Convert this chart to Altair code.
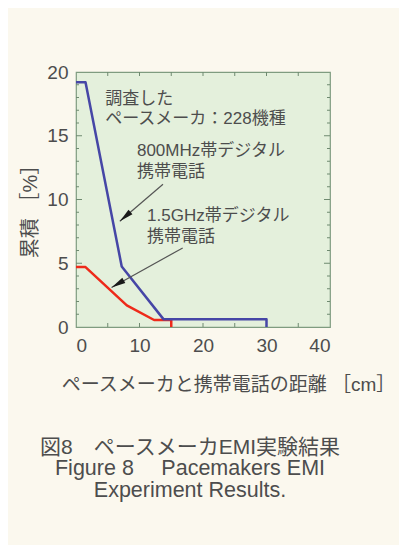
import altair as alt
import pandas as pd

# ---- data ----
blue_x = [0, 1.5, 7.2, 13.8, 30, 30]
blue_y = [19.2, 19.2, 4.75, 0.6, 0.6, 0]
red_x = [0, 1.5, 8.0, 12.3, 15, 15]
red_y = [4.7, 4.7, 1.7, 0.55, 0.55, 0]

x_labels = [0, 10, 20, 30, 40]
y_labels = [0, 5, 10, 15, 20]
x_ticks = [5, 10, 15, 20, 25, 30, 35]
y_ticks_minor = [1, 2, 3, 4, 6, 7, 8, 9, 11, 12, 13, 14, 16, 17, 18, 19]
y_ticks_major = [5, 10, 15]

note_text = ["調査した", "ペースメーカ：228機種", "800MHz帯デジタル", "携帯電話", "1.5GHz帯デジタル", "携帯電話"]
note_x = [4.6, 4.6, 9.6, 9.6, 11.2, 11.2]
note_y = [17.5, 15.9, 13.4, 11.8, 8.3, 6.7]

arrow_x = [13.7, 16.8]
arrow_y = [11.2, 6.2]
arrow_x2 = [6.9, 5.6]
arrow_y2 = [8.3, 3.1]
arrow_angle = [229, 240]

caption_jp = "図8　ペースメーカEMI実験結果"
caption_en = ["Figure 8　 Pacemakers EMI", "Experiment Results."]
x_title = "ペースメーカと携帯電話の距離 ［cm］"
y_title = "累積 ［%］"

FONT = "Liberation Sans, Noto Sans CJK JP, sans-serif"
TXT = "#4d4d4d"
W, H = 254, 255

lines = pd.DataFrame(
    {"x": blue_x + red_x, "y": blue_y + red_y,
     "s": ["800"] * len(blue_x) + ["1.5"] * len(red_x),
     "o": list(range(len(blue_x))) + list(range(len(red_x)))}
)

xs = alt.Scale(domain=[0, 40], nice=False, zero=False)
ys = alt.Scale(domain=[0, 20], nice=False, zero=False)

base_x = alt.X("x:Q", scale=xs, title=x_title,
               axis=alt.Axis(values=x_labels, tickSize=0, domain=False, grid=False,
                             labelFontSize=19, labelPadding=9, labelColor=TXT, labelFont=FONT,
                             titleFont=FONT, titleFontSize=19, titleFontWeight="normal", titleColor=TXT,
                             titleX=152, titleY=63, titleAlign="center", titleBaseline="alphabetic"))
base_y = alt.Y("y:Q", scale=ys, title=y_title,
               axis=alt.Axis(values=y_labels, tickSize=0, domain=False, grid=False,
                             labelFontSize=19, labelPadding=8, labelColor=TXT, labelFont=FONT,
                             titleFont=FONT, titleFontSize=20, titleFontWeight="normal", titleColor=TXT,
                             titleX=-46, titleY=134, titleAlign="center", titleBaseline="middle",
                             titleAngle=270))

red = alt.Chart(lines[lines.s == "1.5"]).mark_line(color="#ee2a1a", strokeWidth=2.5, strokeJoin="round").encode(
    x=base_x, y=base_y, order="o:Q")
blue = alt.Chart(lines[lines.s == "800"]).mark_line(color="#4646a6", strokeWidth=2.5, strokeJoin="round").encode(
    x="x:Q", y="y:Q", order="o:Q")

tick_color = "#6f8a70"
xt = pd.DataFrame({"x": x_ticks})
xt_bottom = alt.Chart(xt).mark_rule(color=tick_color, strokeWidth=1).encode(
    x="x:Q", y=alt.value(H), y2=alt.value(H - 4))
xt_top = alt.Chart(xt).mark_rule(color=tick_color, strokeWidth=1).encode(
    x="x:Q", y=alt.value(0), y2=alt.value(4))

ytm = pd.DataFrame({"y": y_ticks_minor})
ytM = pd.DataFrame({"y": y_ticks_major})
yt_l_min = alt.Chart(ytm).mark_rule(color=tick_color, strokeWidth=1).encode(
    y="y:Q", x=alt.value(0), x2=alt.value(3))
yt_r_min = alt.Chart(ytm).mark_rule(color=tick_color, strokeWidth=1).encode(
    y="y:Q", x=alt.value(W), x2=alt.value(W - 3))
yt_l_maj = alt.Chart(ytM).mark_rule(color=tick_color, strokeWidth=1).encode(
    y="y:Q", x=alt.value(0), x2=alt.value(6))
yt_r_maj = alt.Chart(ytM).mark_rule(color=tick_color, strokeWidth=1).encode(
    y="y:Q", x=alt.value(W), x2=alt.value(W - 6))

notes = alt.Chart(pd.DataFrame({"x": note_x, "y": note_y, "t": note_text})).mark_text(
    align="left", baseline="alphabetic", fontSize=17, font=FONT, color=TXT).encode(
    x="x:Q", y="y:Q", text="t:N")

arr = pd.DataFrame({"x": arrow_x, "y": arrow_y, "x2": arrow_x2, "y2": arrow_y2, "a": arrow_angle})
arrow_lines = alt.Chart(arr).mark_rule(color="#555555", strokeWidth=1.2).encode(
    x="x:Q", y="y:Q", x2="x2:Q", y2="y2:Q")
arrow_heads = alt.Chart(arr).mark_point(
    shape="M0,0L0.42,2L-0.42,2Z", filled=True, color="#1a1a1a", opacity=1, size=200).encode(
    x="x2:Q", y="y2:Q", angle=alt.Angle("a:Q", scale=None))

chart = alt.layer(
    xt_bottom, xt_top, yt_l_min, yt_r_min, yt_l_maj, yt_r_maj,
    red, blue, arrow_lines, arrow_heads, notes
).properties(
    width=W, height=H,
    autosize=alt.AutoSizeParams(type="none"),
    padding={"left": 68, "top": 64, "right": 69, "bottom": 218},
    title=alt.TitleParams(text=caption_jp, subtitle=caption_en, orient="bottom", anchor="middle",
                          frame="group", fontSize=21, font=FONT, fontWeight="normal", color=TXT,
                          subtitleFont=FONT, subtitleFontSize=21.5, subtitleColor=TXT,
                          subtitleFontWeight="normal", subtitleLineHeight=22, subtitlePadding=0,
                          offset=43, dx=-13, baseline="top"),
).configure(background="#fbf8ee").configure_view(
    fill="#e4f0dc", stroke="#7f9c80", strokeWidth=1.2
)

chart.save("out.html", embed_options={"renderer": "svg", "actions": False})
